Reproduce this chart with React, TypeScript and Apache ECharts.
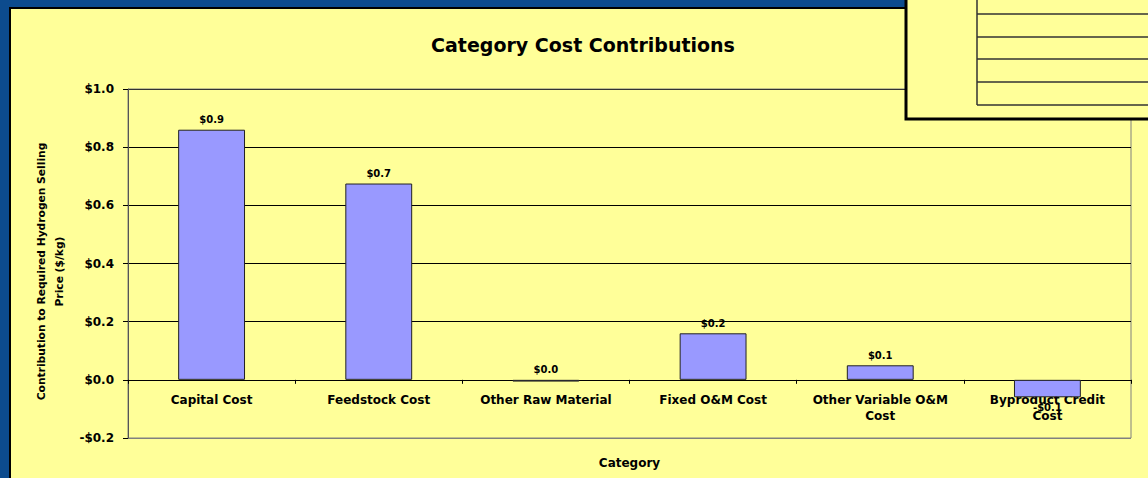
import React, { useEffect, useRef } from "react";
import * as echarts from "echarts";

const categories = [
  "Capital Cost",
  "Feedstock Cost",
  "Other Raw Material",
  "Fixed O&M Cost",
  "Other Variable O&M\nCost",
  "Byproduct Credit\nCost",
];
const values = [0.86, 0.675, -0.006, 0.16, 0.05, -0.06];
const yMin = -0.2;
const yMax = 1.0;
const yStep = 0.2;
const titleText = "Category Cost Contributions";
const yAxisTitle = "Contribution to Required Hydrogen Selling\nPrice ($/kg)";
const xAxisTitle = "Category";

const FONT = "DejaVu Sans";

function money(v: number): string {
  const r = Math.round(v * 10) / 10;
  if (r < 0) return "-$" + Math.abs(r).toFixed(1);
  return "$" + Math.abs(r).toFixed(1);
}

export default function App() {
  const ref = useRef<HTMLDivElement>(null);
  useEffect(() => {
    if (!ref.current) return;
    const chart = echarts.init(ref.current, null, { renderer: "svg" });
    const boxLines = [14, 37, 59, 82, 105].map((y) => ({
      type: "line",
      z: 101,
      shape: { x1: 977, y1: y, x2: 1160, y2: y },
      style: { stroke: "#333", lineWidth: 1.5 },
    }));
    chart.setOption({
      animation: false,
      backgroundColor: "#0C4B8E",
      title: {
        text: titleText,
        left: 578,
        top: 30,
        textAlign: "center",
        textStyle: { fontFamily: FONT, fontWeight: "bold", fontSize: 19, color: "#000" },
      },
      graphic: [
        {
          type: "rect",
          z: -10,
          shape: { x: 10, y: 8, width: 1200, height: 500 },
          style: { fill: "#FFFF99", stroke: "#000", lineWidth: 2 },
        },
        {
          type: "rect",
          z: 100,
          shape: { x: 906, y: -10, width: 300, height: 129 },
          style: { fill: "#FFFF99", stroke: "#000", lineWidth: 3 },
        },
        {
          type: "line",
          z: 101,
          shape: { x1: 977, y1: -5, x2: 977, y2: 105 },
          style: { stroke: "#333", lineWidth: 1.5 },
        },
        ...boxLines,
      ],
      grid: {
        left: 128,
        top: 89,
        right: 17,
        bottom: 40,
        containLabel: false,
        outerBoundsMode: "none",
        show: true,
        backgroundColor: "transparent",
        borderColor: "#808080",
        borderWidth: 1,
      },
      xAxis: {
        type: "category",
        data: categories,
        name: xAxisTitle,
        nameLocation: "middle",
        nameGap: 19,
        nameTextStyle: { fontFamily: FONT, fontWeight: "bold", fontSize: 12, color: "#000" },
        axisLine: { onZero: true, lineStyle: { color: "#000", width: 1 } },
        axisTick: { show: true, alignWithLabel: false, interval: 0, length: 4, lineStyle: { color: "#000" } },
        axisLabel: {
          interval: 0,
          margin: -46,
          fontFamily: FONT,
          fontWeight: "bold",
          fontSize: 12,
          lineHeight: 16,
          color: "#000",
        },
        splitLine: { show: false },
      },
      yAxis: {
        type: "value",
        min: yMin,
        max: yMax,
        interval: yStep,
        name: yAxisTitle,
        nameLocation: "middle",
        nameGap: 60,
        nameRotate: 90,
        nameTextStyle: { fontFamily: FONT, fontWeight: "bold", fontSize: 10.7, lineHeight: 18, color: "#000", align: "center", padding: [0, 16, 0, 0] },
        axisLine: { show: true, lineStyle: { color: "#555", width: 1 } },
        axisTick: { show: true, length: 5, lineStyle: { color: "#000" } },
        axisLabel: {
          margin: 14,
          fontFamily: FONT,
          fontWeight: "bold",
          fontSize: 12,
          color: "#000",
          formatter: (v: number) => money(v),
        },
        splitLine: {
          show: true,
          lineStyle: { color: ["#808080", "#000", "#000", "#000", "#000", "#000", "#333"], width: 1 },
        },
      },
      series: [
        {
          type: "bar",
          barWidth: "40%",
          data: values.map((v) => ({
            value: v,
            label: { position: v < -0.02 ? "bottom" : "top" },
          })),
          itemStyle: { color: "#9999FF", borderColor: "#222", borderWidth: 1 },
          label: {
            show: true,
            distance: 5,
            fontFamily: FONT,
            fontWeight: "bold",
            fontSize: 10,
            color: "#000",
            formatter: (p: any) => money(p.value),
          },
        },
      ],
    });
    return () => chart.dispose();
  }, []);
  return (
    <div
      ref={ref}
      style={{ position: "absolute", left: 0, top: 0, width: 1148, height: 478 }}
    />
  );
}
